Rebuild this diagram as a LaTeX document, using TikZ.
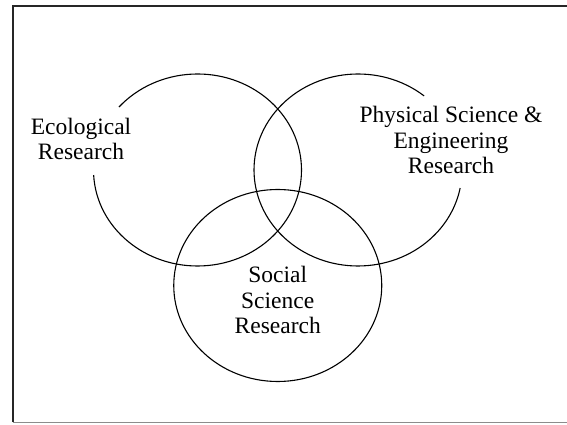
\documentclass[tikz,border=0pt]{standalone}
\usepackage{fontspec}
\setmainfont{Liberation Serif}
\begin{document}
\begin{tikzpicture}[x=1pt,y=1pt,
  ring/.style={line width=1.1pt, black},
  lbl/.style={font=\fontsize{23.5}{25.2}\selectfont, align=center, inner sep=0pt, anchor=base},
  frameline/.style={line width=2pt, black!85}]
\useasboundingbox (0,0) rectangle (567,425);
\fill[white] (0,0) rectangle (567,425);
% frame
\coordinate (tl) at (12.5,419);
\coordinate (tr) at (567,419);
\coordinate (bl) at (12.5,2.5);
\coordinate (br) at (567,2.5);
\draw[frameline] (tr) -- (tl) -- (bl);
\draw[line width=1pt, black!45] (bl) -- (br);
% circles
\draw[ring] (197.5,255) ++(183:104 and 96) arc[start angle=183,end angle=499,x radius=104,y radius=96];
\draw[ring] (358,255) ++(50.5:104 and 96) arc[start angle=50.5,end angle=349.2,x radius=104,y radius=96];
\draw[ring] (277.75,139.5) ellipse[x radius=104,y radius=96];
% labels (anchor = baseline of the last line)
\node[lbl] (eco) at (81,265) {Ecological\\Research};
\node[lbl] (phys) at (451,251.7) {Physical Science \&\\Engineering\\Research};
\node[lbl] (soc) at (277.7,91.7) {Social\\Science\\Research};
\end{tikzpicture}
\end{document}
